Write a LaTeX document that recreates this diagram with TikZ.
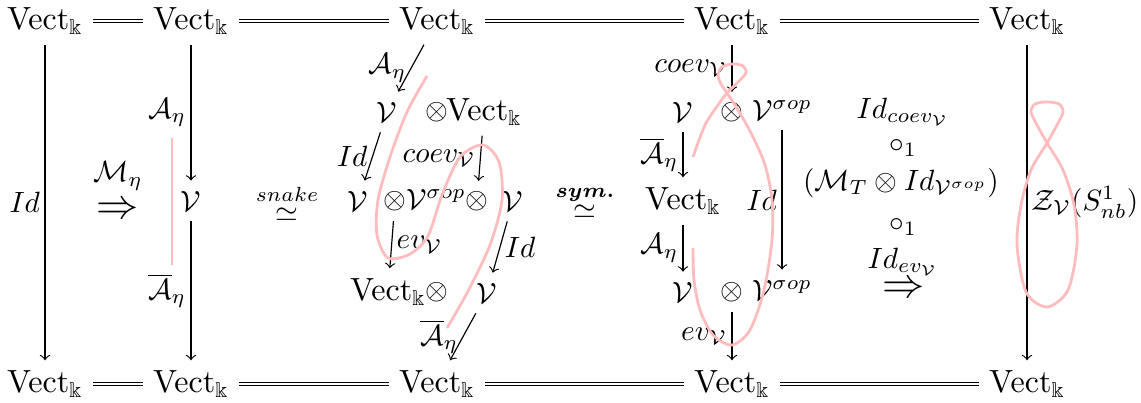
\documentclass[tikz,border=0pt]{standalone}
\usepackage{amsmath, amssymb}
\usepackage{tikz}
\usetikzlibrary{calc}
\usepackage{xcolor}
\definecolor{rose}{RGB}{255,188,190}

\newcommand{\Vk}{\mathrm{Vect}_{\Bbbk}}

\begin{document}
\begin{tikzpicture}[
    x=0.012cm, y=-0.012cm,
    fleche/.style={->},
    egal/.style={double, double distance=0.6pt},
    etiq/.style={inner sep=1.5pt},
    vect/.style={font=\fontsize{10.5}{12}\selectfont},
    ruban/.style={rose, line width=0.95pt}
  ]
  \useasboundingbox (0,0) rectangle (1141,403);

  % Ligne du haut
  \node[vect] (h1) at (45,21)   {$\Vk$};
  \node[vect] (h2) at (191,21)  {$\Vk$};
  \node[vect] (h3) at (437,21)  {$\Vk$};
  \node[vect] (h4) at (732,21)  {$\Vk$};
  \node[vect] (h5) at (1027,21) {$\Vk$};
  % Ligne du bas
  \node[vect] (b1) at (45,384)   {$\Vk$};
  \node[vect] (b2) at (191,384)  {$\Vk$};
  \node[vect] (b3) at (437,384)  {$\Vk$};
  \node[vect] (b4) at (732,384)  {$\Vk$};
  \node[vect] (b5) at (1027,384) {$\Vk$};

  \draw[egal] (h1) -- (h2);
  \draw[egal] (h2) -- (h3);
  \draw[egal] (h3) -- (h4);
  \draw[egal] (h4) -- (h5);
  \draw[egal] (b1) -- (b2);
  \draw[egal] (b2) -- (b3);
  \draw[egal] (b3) -- (b4);
  \draw[egal] (b4) -- (b5);

  % Colonne 1
  \draw[fleche] (h1) -- node[left, etiq] {$Id$} (b1);
  \node (Meta) at (118,176) {$\mathcal{M}_\eta$};
  \node (imp1) at (118,211) {\Large $\Rightarrow$};

  % Colonne 2
  \node (v2) at (191,201) {$\mathcal{V}$};
  \draw[fleche] (h2) -- node[left, etiq] {$\mathcal{A}_\eta$} (v2);
  \draw[fleche] (v2) -- node[left, etiq] {$\overline{\mathcal{A}}_\eta$} (b2);
  \draw[ruban] (172,138) -- (172,265);

  \node (snake) at (287,203) {$\overset{snake}{\simeq}$};

  % Colonne 3
  \node (p3v1) at (387,112) {$\mathcal{V}$};
  \node (p3o1) at (437,112) {$\otimes$};
  \node[vect] (p3k1) at (484,112) {$\Vk$};
  \node (p3v2) at (358,201) {$\mathcal{V}$};
  \node (p3o2) at (395,201) {$\otimes$};
  \node (p3s2) at (436,199) {$\mathcal{V}^{\sigma op}$};
  \node (p3o3) at (477,201) {$\otimes$};
  \node (p3v3) at (513,201) {$\mathcal{V}$};
  \node[vect] (p3k3) at (388,292) {$\Vk$};
  \node (p3o4) at (437,292) {$\otimes$};
  \node (p3v4) at (487,293) {$\mathcal{V}$};

  \draw[fleche] (h3) -- node[left, etiq] {$\mathcal{A}_\eta$} (p3v1);
  \draw[fleche] (p3v1) -- node[left, etiq] {$Id$} (p3v2);
  \draw[fleche] (p3k1) -- node[left, etiq] {$coev_{\mathcal{V}}$} (p3o3);
  \draw[fleche] (p3o2) -- node[right, etiq] {$ev_{\mathcal{V}}$} (p3k3);
  \draw[fleche] (p3v3) -- node[right, etiq] {$Id$} (p3v4);
  \draw[fleche] (p3v4) -- node[left, etiq] {$\overline{\mathcal{A}}_\eta$} (b3);

  \draw[ruban] plot[smooth] coordinates {(427,76) (407,112) (390,157) (378,200)
    (377,235) (388,258) (410,254) (428,236) (442,195) (460,157) (483,145)
    (499,162) (502,200) (490,245) (467,293) (447,328)};

  \node (sym) at (585,202) {$\overset{\boldsymbol{sym.}}{\simeq}$};

  % Colonne 4
  \node (p4v1) at (683,112) {$\mathcal{V}$};
  \node (p4o1) at (732,112) {$\otimes$};
  \node (p4s1) at (782,110) {$\mathcal{V}^{\sigma op}$};
  \node[vect] (p4k2) at (683,201) {$\Vk$};
  \node (p4v3) at (683,292) {$\mathcal{V}$};
  \node (p4o3) at (732,292) {$\otimes$};
  \node (p4s3) at (782,290) {$\mathcal{V}^{\sigma op}$};

  \draw[fleche] (h4) -- node[left, etiq] {$coev_{\mathcal{V}}$} (p4o1);
  \draw[fleche] (p4v1) -- node[left, etiq] {$\overline{\mathcal{A}}_\eta$} (p4k2);
  \draw[fleche] (p4s1) -- node[left, etiq] {$Id$} (p4s3);
  \draw[fleche] (p4k2) -- node[left, etiq] {$\mathcal{A}_\eta$} (p4v3);
  \draw[fleche] (p4o3) -- node[left, etiq] {$ev_{\mathcal{V}}$} (b4);

  \draw[ruban] plot[smooth] coordinates {(693,157) (705,125) (718,105) (727,93)
    (738,82) (746,73) (743,66) (733,64) (722,67) (718,75) (721,84) (727,93)
    (738,110) (752,135) (765,165) (772,200) (772,240) (764,290) (750,330)
    (732,345) (713,335) (700,310) (694,280) (693,248)};

  % Colonne 5
  \node (idc) at (903,112) {$Id_{coev_{\mathcal{V}}}$};
  \node (rond1) at (903,148) {$\circ_1$};
  \node (mt) at (901,183) {$(\mathcal{M}_T \otimes Id_{\mathcal{V}^{\sigma op}})$};
  \node (rond2) at (903,227) {$\circ_1$};
  \node (ide) at (903,262) {$Id_{ev_{\mathcal{V}}}$};
  \node (imp2) at (904,290) {\Large $\Rightarrow$};

  % Colonne 6
  \draw[fleche] (h5) -- node[right, etiq] {$\mathcal{Z}_{\mathcal{V}}(S^1_{nb})$} (b5);
  \draw[ruban] plot[smooth cycle] coordinates {(1047,143) (1057,125) (1063,112)
    (1059,104) (1047,102) (1035,104) (1031,112) (1037,125) (1047,143) (1063,170)
    (1074,205) (1077,245) (1068,290) (1047,307) (1026,292) (1017,245) (1021,205)
    (1031,170)};
\end{tikzpicture}
\end{document}
